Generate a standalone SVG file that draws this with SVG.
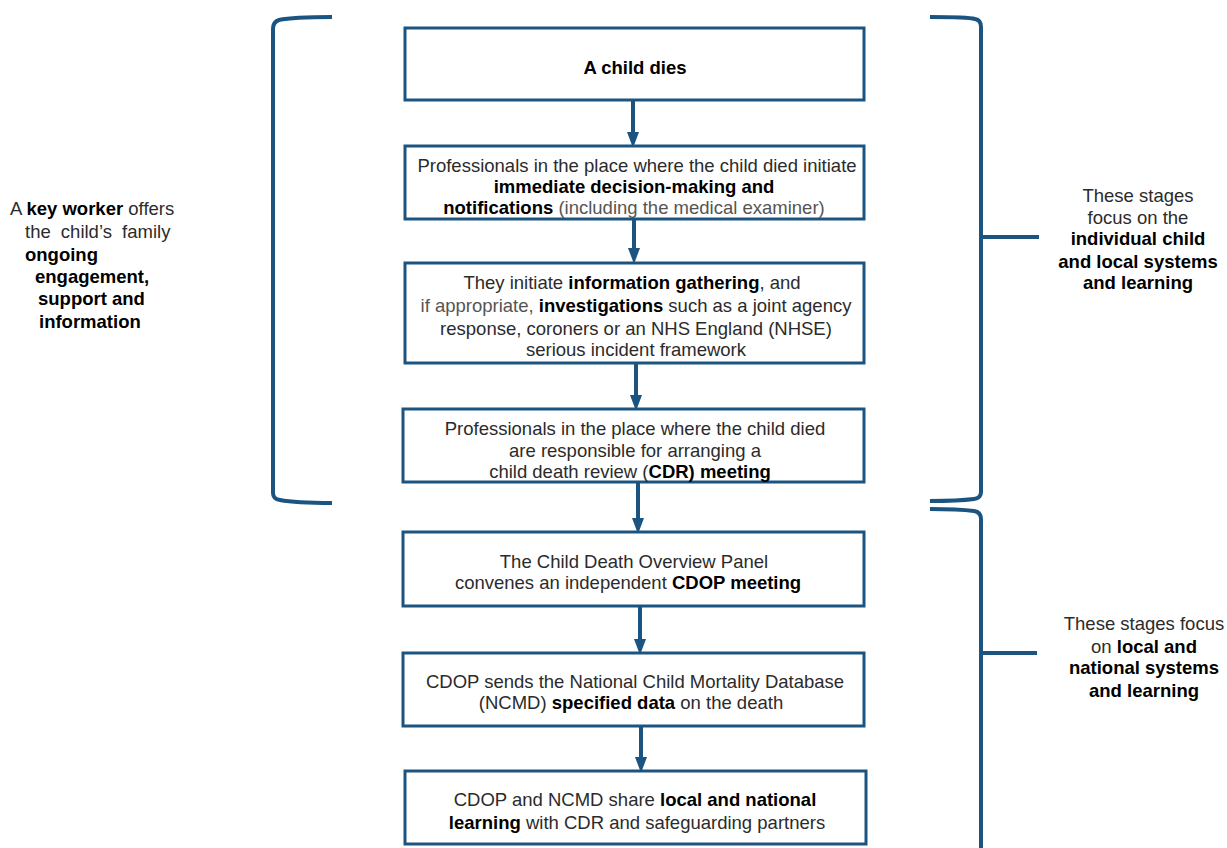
<svg xmlns="http://www.w3.org/2000/svg" width="1227" height="848" viewBox="0 0 1227 848">
<defs>
<style>
.box{fill:#fff;stroke:#1b5480;stroke-width:3}
.br{fill:none;stroke:#1b5480;stroke-width:4}
.ar{stroke:#1b5480;stroke-width:4;fill:none}
text{font-family:"Liberation Sans",Arial,sans-serif;font-size:18.5px;fill:#2b2b2b}
.c{text-anchor:middle}
.b{font-weight:bold;fill:#000}
.g{fill:#555}
</style>
<marker id="ah" markerWidth="4" markerHeight="4" refX="2" refY="2" orient="auto" markerUnits="strokeWidth" viewBox="0 0 4 4">
<path d="M0,0.5 L4,2 L0,3.5 Z" fill="#1b5480"/>
</marker>
</defs>
<rect width="1227" height="848" fill="#fff"/>
<g id="connectors">
<line class="ar" x1="633" y1="101" x2="633" y2="140" marker-end="url(#ah)"/>
<line class="ar" x1="634" y1="220" x2="634" y2="256" marker-end="url(#ah)"/>
<line class="ar" x1="636" y1="364" x2="636" y2="403" marker-end="url(#ah)"/>
<line class="ar" x1="638" y1="483" x2="638" y2="526" marker-end="url(#ah)"/>
<line class="ar" x1="640" y1="607" x2="640" y2="647" marker-end="url(#ah)"/>
<line class="ar" x1="641" y1="727" x2="641" y2="765" marker-end="url(#ah)"/>
</g>
<g id="brackets">
<path class="br" d="M332,17 C305,17 288,18 279,20 Q273,22 273,29 L273,493 Q273,499 280,500 C290,502 305,503 332,503"/>
<path class="br" d="M930,17 C950,17 968,17 975,19 Q981,20 981,27 L981,492 Q981,498 974,499 C966,500 950,501 930,501"/>
<line class="br" x1="981" y1="237" x2="1039" y2="237"/>
<path class="br" d="M930,509 C950,509 966,510 974,511 Q981,512 981,519 L981,850"/>
<line class="br" x1="981" y1="653" x2="1037" y2="653"/>
</g>
<g id="n1">
<rect class="box" x="405" y="28" width="459" height="72"/>
<text class="c b" x="635" y="74">A child dies</text>
</g>
<g id="n2">
<rect class="box" x="405" y="146" width="459" height="73"/>
<text class="c" x="637" y="172">Professionals in the place where the child died initiate</text>
<text class="c b" x="634" y="193">immediate decision-making and</text>
<text class="c" x="634" y="214"><tspan class="b">notifications</tspan> <tspan class="g">(including the medical examiner)</tspan></text>
</g>
<g id="n3">
<rect class="box" x="405" y="263" width="459" height="100"/>
<text class="c" x="632" y="289">They initiate <tspan class="b">information gathering</tspan>, and</text>
<text class="c" x="636" y="312"><tspan class="g">if appropriate,</tspan> <tspan class="b">investigations</tspan> such as a joint agency</text>
<text class="c" x="636" y="335">response, coroners or an NHS England (NHSE)</text>
<text class="c" x="636" y="356">serious incident framework</text>
</g>
<g id="n4">
<rect class="box" x="403" y="409" width="461" height="73"/>
<text class="c" x="635" y="435">Professionals in the place where the child died</text>
<text class="c" x="635" y="457">are responsible for arranging a</text>
<text class="c" x="630" y="478">child death review (<tspan class="b">CDR) meeting</tspan></text>
</g>
<g id="n5">
<rect class="box" x="403" y="532" width="461" height="74"/>
<text class="c" x="634" y="568">The Child Death Overview Panel</text>
<text class="c" x="628" y="589">convenes an independent <tspan class="b">CDOP meeting</tspan></text>
</g>
<g id="n6">
<rect class="box" x="403" y="653" width="461" height="73"/>
<text class="c" x="635" y="688">CDOP sends the National Child Mortality Database</text>
<text class="c" x="631" y="709">(NCMD) <tspan class="b">specified data</tspan> on the death</text>
</g>
<g id="n7">
<rect class="box" x="405" y="771" width="461" height="73"/>
<text class="c" x="635" y="806">CDOP and NCMD share <tspan class="b">local and national</tspan></text>
<text class="c" x="637" y="829"><tspan class="b">learning</tspan> with CDR and safeguarding partners</text>
</g>
<g id="left-label">
<text x="10" y="215">A <tspan class="b">key worker</tspan> offers</text>
<text x="25" y="238" word-spacing="5">the child’s family</text>
<text class="b" x="25" y="261">ongoing</text>
<text class="b" x="35" y="283">engagement,</text>
<text class="b" x="38" y="305">support and</text>
<text class="b" x="39" y="328">information</text>
</g>
<g id="right-label-1">
<text class="c" x="1138" y="202">These stages</text>
<text class="c" x="1138" y="224">focus on the</text>
<text class="c b" x="1138" y="245">individual child</text>
<text class="c b" x="1138" y="268">and local systems</text>
<text class="c b" x="1138" y="289">and learning</text>
</g>
<g id="right-label-2">
<text class="c" x="1144" y="630">These stages focus</text>
<text class="c" x="1144" y="653">on <tspan class="b">local and</tspan></text>
<text class="c b" x="1144" y="674">national systems</text>
<text class="c b" x="1144" y="697">and learning</text>
</g>
</svg>
